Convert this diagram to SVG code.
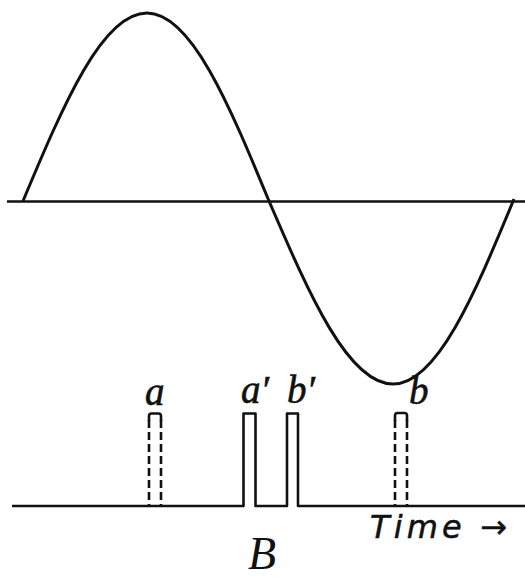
<svg xmlns="http://www.w3.org/2000/svg" width="525" height="578" viewBox="0 0 525 578">
<style>
.ln{fill:none;stroke:#111;stroke-width:2.6;stroke-linejoin:round;stroke-linecap:butt}
.dash{fill:none;stroke:#111;stroke-width:2.6;stroke-dasharray:8 4}
.lbl{font-family:"Liberation Serif","DejaVu Serif",serif;font-style:italic;font-size:39px;fill:#111;stroke:#111;stroke-width:0.6}
</style>
<rect width="525" height="578" fill="#fff"/>
<g id="axis"><line class="ln" x1="7" y1="201.5" x2="525" y2="201.5"/></g>
<g id="sine"><path class="ln" style="stroke-width:3" d="M23,201 C63.4,104.7 102.1,13 147,13 C191.2,13 229.2,104.7 269,201 C309.4,294.7 348.1,384 393,384 C436.8,384 474.5,294.7 514,199"/></g>
<g id="baseline"><path class="ln" d="M12,506 H243.5 V413.5 H255.5 V506 H287 V413.5 H298 V506 H525"/></g>
<g id="pulse-a">
<line class="dash" x1="149" y1="420" x2="149" y2="506"/>
<line class="dash" x1="161" y1="420" x2="161" y2="506"/>
<path class="ln" d="M149,421 V416 Q149,413.5 151.5,413.5 H158.5 Q161,413.5 161,416 V421"/>
</g>
<g id="pulse-b">
<line class="dash" x1="395" y1="420" x2="395" y2="505"/>
<line class="dash" x1="407" y1="420" x2="407" y2="505"/>
<path class="ln" d="M395,421 V415.5 Q395,413 397.5,413 H404.5 Q407,413 407,415.5 V421"/>
</g>
<g id="labels">
<text class="lbl" x="145" y="405">a</text>
<text class="lbl" x="241" y="403">a′</text>
<text class="lbl" x="287" y="403">b′</text>
<text class="lbl" x="409" y="404">b</text>
<text x="370" y="538" font-family="DejaVu Sans, sans-serif" font-style="italic" font-size="32" fill="#111" stroke="#111" stroke-width="0.5" textLength="137" lengthAdjust="spacing">Time →</text>
<text x="248" y="569" font-family="Liberation Serif, serif" font-style="italic" font-size="46" fill="#111">B</text>
</g>
</svg>
